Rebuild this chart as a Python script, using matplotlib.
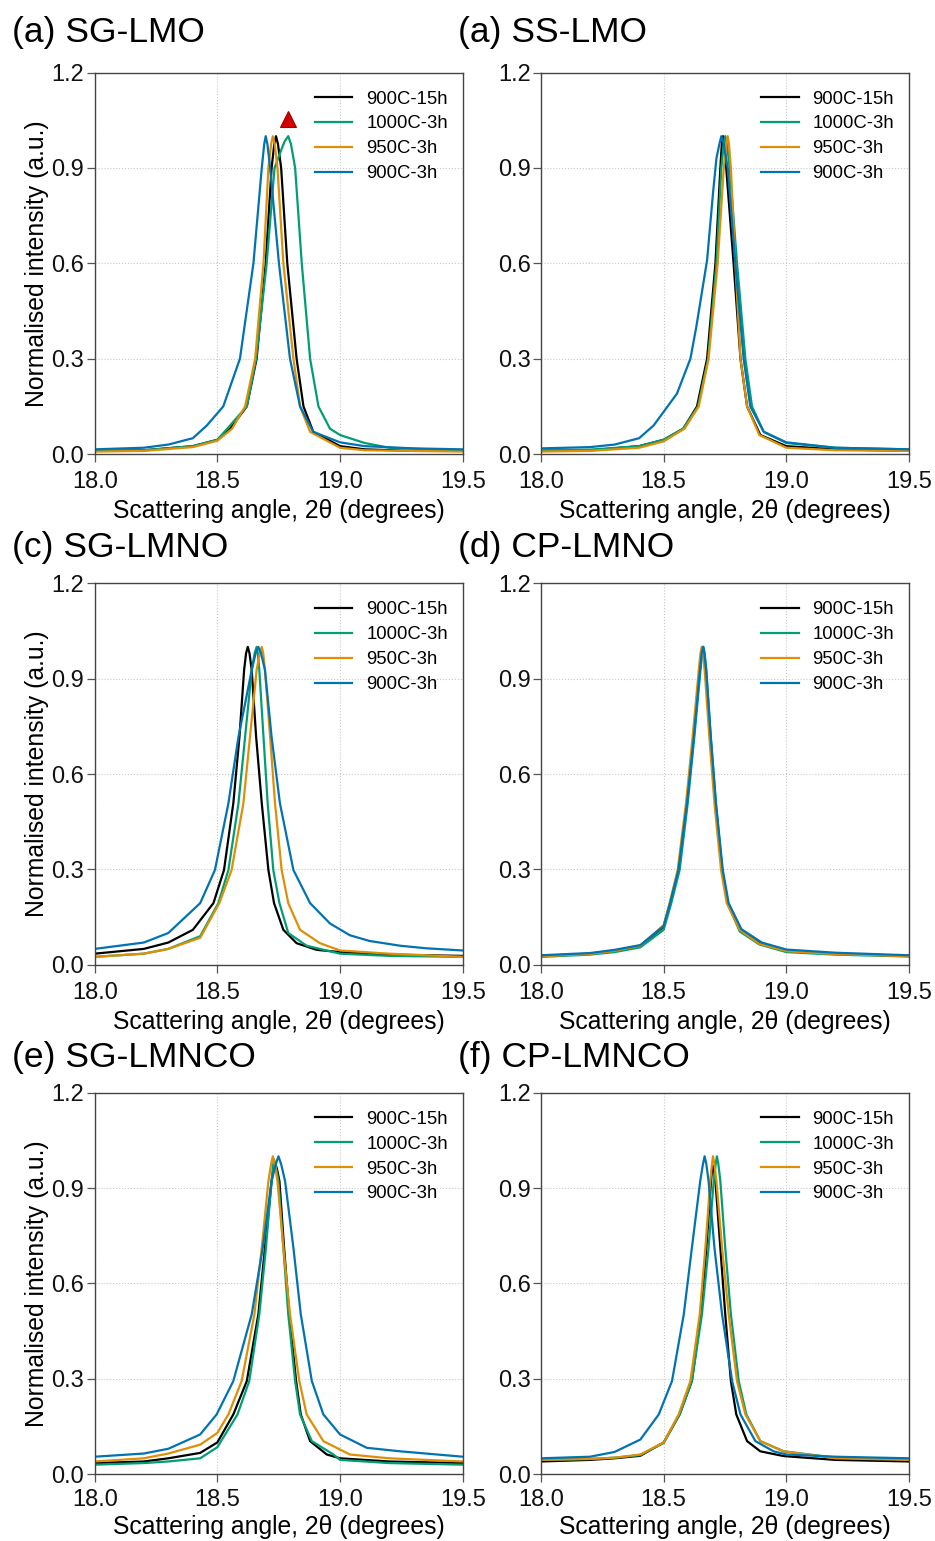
import matplotlib.pyplot as plt

plt.rcParams['font.family'] = ['Liberation Sans', 'DejaVu Sans']

labels = ['900C-15h', '1000C-3h', '950C-3h', '900C-3h']
colors = ['#000000', '#029e73', '#de8f05', '#0173b2']
titles = ['(a) SG-LMO', '(a) SS-LMO', '(c) SG-LMNO', '(d) CP-LMNO', '(e) SG-LMNCO', '(f) CP-LMNCO']

sg_lmo_x = [
    [18.0, 18.2, 18.4, 18.5, 18.552, 18.62, 18.66, 18.697, 18.721, 18.732, 18.739, 18.747, 18.76, 18.785, 18.823, 18.851, 18.891, 19.0, 19.1, 19.3, 19.5],
    [18.0, 18.2, 18.4, 18.5, 18.62, 18.658, 18.701, 18.733, 18.762, 18.775, 18.789, 18.8, 18.817, 18.844, 18.878, 18.912, 18.959, 19.0, 19.1, 19.2, 19.5],
    [18.0, 18.2, 18.4, 18.5, 18.56, 18.613, 18.654, 18.688, 18.708, 18.719, 18.726, 18.734, 18.745, 18.769, 18.81, 18.837, 18.878, 19.0, 19.1, 19.5],
    [18.0, 18.2, 18.3, 18.4, 18.457, 18.524, 18.592, 18.647, 18.681, 18.691, 18.697, 18.704, 18.715, 18.751, 18.796, 18.837, 18.891, 19.0, 19.1, 19.3, 19.5],
]
sg_lmo_y = [
    [0.01, 0.012, 0.025, 0.045, 0.08, 0.15, 0.3, 0.6, 0.9, 0.975, 1.0, 0.975, 0.9, 0.6, 0.3, 0.15, 0.07, 0.025, 0.015, 0.01, 0.01],
    [0.01, 0.012, 0.025, 0.045, 0.15, 0.3, 0.6, 0.9, 0.96, 0.985, 1.0, 0.975, 0.9, 0.6, 0.3, 0.15, 0.08, 0.06, 0.035, 0.02, 0.01],
    [0.008, 0.01, 0.022, 0.042, 0.08, 0.15, 0.3, 0.6, 0.9, 0.975, 1.0, 0.975, 0.9, 0.6, 0.3, 0.15, 0.07, 0.02, 0.012, 0.008],
    [0.015, 0.02, 0.03, 0.05, 0.09, 0.15, 0.3, 0.6, 0.9, 0.975, 1.0, 0.975, 0.9, 0.6, 0.3, 0.15, 0.07, 0.037, 0.025, 0.018, 0.015],
]

ss_lmo_x = [
    [18.0, 18.2, 18.4, 18.5, 18.58, 18.636, 18.677, 18.711, 18.731, 18.737, 18.742, 18.748, 18.755, 18.785, 18.813, 18.84, 18.894, 19.0, 19.2, 19.5],
    [18.0, 18.2, 18.4, 18.5, 18.58, 18.64, 18.681, 18.715, 18.735, 18.745, 18.751, 18.758, 18.769, 18.799, 18.833, 18.86, 18.908, 19.0, 19.2, 19.5],
    [18.0, 18.2, 18.4, 18.5, 18.585, 18.643, 18.683, 18.72, 18.745, 18.755, 18.761, 18.766, 18.774, 18.792, 18.813, 18.84, 18.89, 19.0, 19.2, 19.5],
    [18.0, 18.2, 18.3, 18.4, 18.459, 18.554, 18.609, 18.633, 18.677, 18.701, 18.715, 18.727, 18.735, 18.745, 18.761, 18.792, 18.826, 18.853, 18.908, 19.0, 19.2, 19.5],
]
ss_lmo_y = [
    [0.01, 0.012, 0.025, 0.045, 0.08, 0.15, 0.3, 0.6, 0.9, 0.975, 1.0, 0.975, 0.9, 0.6, 0.3, 0.15, 0.06, 0.025, 0.015, 0.01],
    [0.012, 0.014, 0.025, 0.045, 0.08, 0.15, 0.3, 0.6, 0.9, 0.975, 1.0, 0.975, 0.9, 0.6, 0.3, 0.15, 0.07, 0.035, 0.02, 0.015],
    [0.008, 0.01, 0.02, 0.04, 0.08, 0.15, 0.3, 0.6, 0.9, 0.975, 1.0, 0.975, 0.9, 0.6, 0.3, 0.15, 0.06, 0.02, 0.012, 0.01],
    [0.018, 0.022, 0.03, 0.05, 0.09, 0.19, 0.3, 0.4, 0.61, 0.82, 0.93, 0.975, 1.0, 0.975, 0.9, 0.6, 0.3, 0.15, 0.07, 0.037, 0.02, 0.015],
]

sg_lmno_x = [
    [18.0, 18.2, 18.3, 18.4, 18.484, 18.527, 18.565, 18.59, 18.609, 18.617, 18.624, 18.631, 18.64, 18.658, 18.681, 18.708, 18.731, 18.769, 18.823, 18.905, 19.0, 19.2, 19.5],
    [18.0, 18.2, 18.3, 18.43, 18.504, 18.545, 18.586, 18.613, 18.64, 18.652, 18.66, 18.665, 18.671, 18.688, 18.705, 18.728, 18.753, 18.789, 18.864, 19.0, 19.2, 19.5],
    [18.0, 18.2, 18.3, 18.43, 18.508, 18.558, 18.606, 18.633, 18.66, 18.673, 18.681, 18.687, 18.694, 18.715, 18.735, 18.762, 18.789, 18.837, 18.918, 19.0, 19.2, 19.5],
    [18.0, 18.2, 18.3, 18.43, 18.49, 18.545, 18.586, 18.64, 18.656, 18.667, 18.678, 18.694, 18.721, 18.755, 18.81, 18.878, 18.959, 19.04, 19.12, 19.245, 19.35, 19.5],
]
sg_lmno_y = [
    [0.035, 0.05, 0.07, 0.11, 0.194, 0.298, 0.508, 0.717, 0.927, 0.98, 1.0, 0.98, 0.927, 0.717, 0.508, 0.298, 0.194, 0.11, 0.068, 0.047, 0.04, 0.032, 0.028],
    [0.025, 0.035, 0.05, 0.09, 0.194, 0.298, 0.508, 0.717, 0.927, 0.98, 1.0, 0.98, 0.927, 0.717, 0.508, 0.298, 0.194, 0.1, 0.06, 0.035, 0.028, 0.025],
    [0.025, 0.035, 0.05, 0.085, 0.194, 0.298, 0.508, 0.717, 0.927, 0.98, 1.0, 0.98, 0.927, 0.717, 0.508, 0.298, 0.194, 0.11, 0.068, 0.045, 0.035, 0.025],
    [0.05, 0.07, 0.1, 0.194, 0.298, 0.508, 0.717, 0.927, 0.98, 1.0, 0.98, 0.927, 0.717, 0.508, 0.298, 0.194, 0.13, 0.093, 0.075, 0.06, 0.052, 0.045],
]

cp_lmno_x = [
    [18.0, 18.2, 18.3, 18.405, 18.5, 18.527, 18.561, 18.595, 18.622, 18.647, 18.654, 18.659, 18.664, 18.671, 18.69, 18.711, 18.738, 18.761, 18.813, 18.894, 19.0, 19.2, 19.5],
    [18.0, 18.2, 18.3, 18.405, 18.5, 18.531, 18.565, 18.598, 18.625, 18.65, 18.657, 18.662, 18.667, 18.674, 18.692, 18.713, 18.739, 18.76, 18.81, 18.89, 19.0, 19.2, 19.5],
    [18.0, 18.2, 18.3, 18.405, 18.5, 18.524, 18.557, 18.591, 18.618, 18.643, 18.65, 18.655, 18.66, 18.667, 18.686, 18.707, 18.734, 18.757, 18.81, 18.89, 19.0, 19.2, 19.5],
    [18.0, 18.2, 18.3, 18.405, 18.5, 18.526, 18.56, 18.595, 18.623, 18.648, 18.655, 18.661, 18.666, 18.673, 18.692, 18.713, 18.741, 18.765, 18.817, 18.9, 19.0, 19.2, 19.5],
]
cp_lmno_y = [
    [0.028, 0.035, 0.045, 0.06, 0.12, 0.194, 0.298, 0.508, 0.717, 0.927, 0.98, 1.0, 0.98, 0.927, 0.717, 0.508, 0.298, 0.194, 0.11, 0.068, 0.045, 0.035, 0.028],
    [0.025, 0.032, 0.04, 0.055, 0.11, 0.194, 0.298, 0.508, 0.717, 0.927, 0.98, 1.0, 0.98, 0.927, 0.717, 0.508, 0.298, 0.194, 0.105, 0.064, 0.04, 0.032, 0.026],
    [0.027, 0.034, 0.044, 0.06, 0.125, 0.194, 0.298, 0.508, 0.717, 0.927, 0.98, 1.0, 0.98, 0.927, 0.717, 0.508, 0.298, 0.194, 0.11, 0.066, 0.043, 0.034, 0.027],
    [0.03, 0.037, 0.047, 0.062, 0.122, 0.194, 0.298, 0.508, 0.717, 0.927, 0.98, 1.0, 0.98, 0.927, 0.717, 0.508, 0.298, 0.194, 0.112, 0.07, 0.048, 0.038, 0.03],
]

sg_lmnco_x = [
    [18.0, 18.2, 18.3, 18.43, 18.5, 18.565, 18.62, 18.667, 18.694, 18.721, 18.729, 18.735, 18.743, 18.753, 18.772, 18.793, 18.821, 18.84, 18.878, 18.946, 19.0, 19.2, 19.5],
    [18.0, 18.2, 18.3, 18.43, 18.5, 18.582, 18.63, 18.671, 18.698, 18.721, 18.726, 18.731, 18.739, 18.749, 18.769, 18.789, 18.817, 18.837, 18.885, 18.973, 19.0, 19.2, 19.5],
    [18.0, 18.2, 18.3, 18.43, 18.5, 18.545, 18.599, 18.651, 18.681, 18.708, 18.719, 18.726, 18.734, 18.745, 18.769, 18.796, 18.834, 18.864, 18.932, 19.04, 19.2, 19.5],
    [18.0, 18.2, 18.3, 18.43, 18.497, 18.565, 18.64, 18.685, 18.721, 18.738, 18.749, 18.76, 18.776, 18.81, 18.84, 18.885, 18.932, 19.0, 19.109, 19.245, 19.5],
]
sg_lmnco_y = [
    [0.035, 0.04, 0.05, 0.067, 0.1, 0.188, 0.293, 0.503, 0.712, 0.922, 0.96, 0.98, 0.96, 0.922, 0.712, 0.503, 0.293, 0.188, 0.104, 0.062, 0.05, 0.04, 0.035],
    [0.03, 0.035, 0.04, 0.05, 0.085, 0.188, 0.293, 0.503, 0.712, 0.922, 0.965, 0.99, 0.965, 0.922, 0.712, 0.503, 0.293, 0.188, 0.104, 0.062, 0.045, 0.035, 0.03],
    [0.04, 0.05, 0.065, 0.093, 0.13, 0.188, 0.293, 0.503, 0.712, 0.922, 0.975, 1.0, 0.975, 0.922, 0.712, 0.503, 0.293, 0.188, 0.104, 0.062, 0.05, 0.04],
    [0.055, 0.065, 0.08, 0.125, 0.188, 0.293, 0.503, 0.712, 0.922, 0.975, 1.0, 0.975, 0.922, 0.712, 0.503, 0.293, 0.188, 0.125, 0.083, 0.072, 0.055],
]

cp_lmnco_x = [
    [18.0, 18.2, 18.3, 18.405, 18.5, 18.565, 18.615, 18.652, 18.674, 18.693, 18.697, 18.701, 18.705, 18.711, 18.731, 18.751, 18.774, 18.796, 18.84, 18.894, 18.989, 19.2, 19.5],
    [18.0, 18.2, 18.3, 18.405, 18.5, 18.565, 18.615, 18.656, 18.683, 18.704, 18.712, 18.717, 18.723, 18.731, 18.751, 18.774, 18.806, 18.837, 18.894, 18.989, 19.2, 19.5],
    [18.0, 18.2, 18.3, 18.405, 18.5, 18.561, 18.609, 18.647, 18.67, 18.69, 18.697, 18.701, 18.707, 18.715, 18.738, 18.765, 18.799, 18.833, 18.894, 18.989, 19.2, 19.5],
    [18.0, 18.2, 18.3, 18.405, 18.48, 18.534, 18.582, 18.615, 18.649, 18.66, 18.667, 18.674, 18.683, 18.707, 18.738, 18.779, 18.813, 18.874, 18.948, 19.0, 19.2, 19.5],
]
cp_lmnco_y = [
    [0.04, 0.045, 0.05, 0.058, 0.1, 0.188, 0.293, 0.503, 0.712, 0.922, 0.955, 0.97, 0.955, 0.922, 0.712, 0.503, 0.293, 0.188, 0.104, 0.072, 0.057, 0.045, 0.04],
    [0.045, 0.048, 0.052, 0.06, 0.098, 0.188, 0.293, 0.503, 0.712, 0.922, 0.975, 1.0, 0.975, 0.922, 0.712, 0.503, 0.293, 0.188, 0.104, 0.072, 0.052, 0.048],
    [0.045, 0.048, 0.052, 0.062, 0.1, 0.188, 0.293, 0.503, 0.712, 0.922, 0.975, 1.0, 0.975, 0.922, 0.712, 0.503, 0.293, 0.188, 0.104, 0.072, 0.05, 0.045],
    [0.05, 0.055, 0.07, 0.109, 0.188, 0.293, 0.503, 0.712, 0.922, 0.975, 1.0, 0.975, 0.922, 0.712, 0.503, 0.293, 0.188, 0.104, 0.072, 0.062, 0.055, 0.05],
]

panels = [(sg_lmo_x, sg_lmo_y), (ss_lmo_x, ss_lmo_y), (sg_lmno_x, sg_lmno_y),
          (cp_lmno_x, cp_lmno_y), (sg_lmnco_x, sg_lmnco_y), (cp_lmnco_x, cp_lmnco_y)]

# red marker on the split 1000C peak in panel (a)
marker_x, marker_y = 18.789, 1.053

W, H = 935, 1541
fig = plt.figure(figsize=(W / 100, H / 100), dpi=100)

col_left = [94.7, 541.0]
row_top = [72.6, 583.3, 1092.7]
ax_w, ax_h = 368.0, 381.5
title_base = [41.7, 556.7, 1067.0]
title_x = [12.0, 458.0]
xlabel_y = [-0.118, -0.118, -0.108]

for i, (xs, ys) in enumerate(panels):
    r, c = divmod(i, 2)
    ax = fig.add_axes([col_left[c] / W, 1 - (row_top[r] + ax_h) / H, ax_w / W, ax_h / H])
    for x, y, lab, col in zip(xs, ys, labels, colors):
        ax.plot(x, y, color=col, lw=1.6, label=lab, solid_joinstyle='round')
    if i == 0:
        ax.plot(marker_x, marker_y, marker='^', ms=11, color='#d40000', mec='#a00000', mew=0.8)

    ax.set_xlim(18.0, 19.5)
    ax.set_ylim(0.0, 1.2)
    ax.set_xticks([18.0, 18.5, 19.0, 19.5])
    ax.set_yticks([0.0, 0.3, 0.6, 0.9, 1.2])
    ax.set_xticklabels(['18.0', '18.5', '19.0', '19.5'])
    ax.set_yticklabels(['0.0', '0.3', '0.6', '0.9', '1.2'])
    ax.grid(True, ls=':', lw=0.8, color='#c8c8c8')
    ax.tick_params(direction='out', length=5.5, width=0.9, color='#555555',
                   labelsize=17, labelcolor='#111111')
    ax.tick_params(axis='x', pad=7 if r < 2 else 5)
    ax.tick_params(axis='y', pad=2)
    for sp in ax.spines.values():
        sp.set_color('#444444')
        sp.set_linewidth(1.0)

    ax.set_xlabel('Scattering angle, 2θ (degrees)', fontsize=17.8)
    ax.xaxis.set_label_coords(0.5, xlabel_y[r])
    if c == 0:
        ax.set_ylabel('Normalised intensity (a.u.)', fontsize=17.8)
        ax.yaxis.set_label_coords(-0.125, 0.5)

    ax.legend(loc='upper right', bbox_to_anchor=(0.99, 0.982), frameon=False,
              fontsize=13.3, handlelength=2.05, handletextpad=0.75, labelspacing=0.43,
              borderaxespad=0.2)

    fig.text(title_x[c] / W, 1 - title_base[r] / H, titles[i], fontsize=25.5,
             va='baseline', ha='left')

fig.savefig('out.png', dpi=100)
